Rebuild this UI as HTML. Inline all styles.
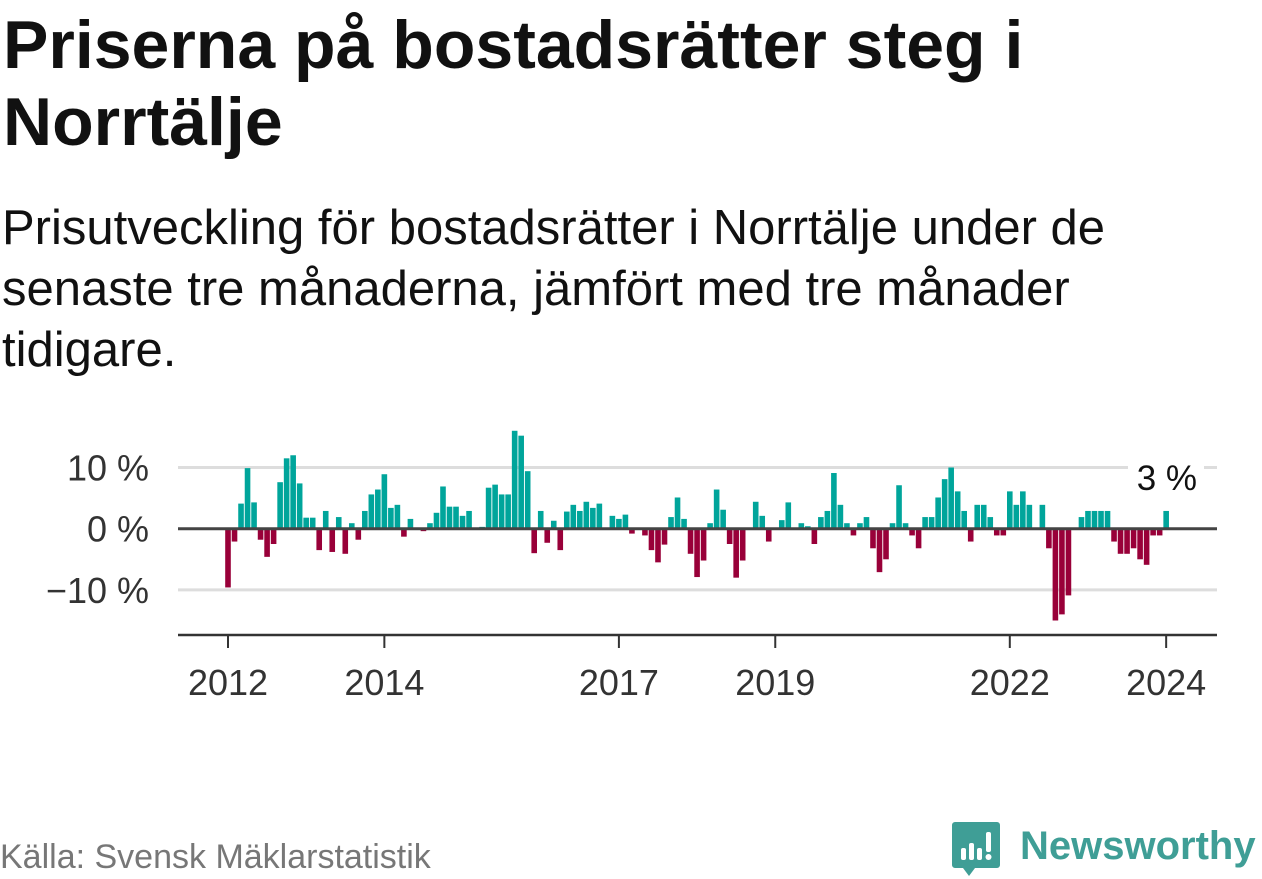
<!DOCTYPE html>
<html><head><meta charset="utf-8">
<style>
html,body{margin:0;padding:0;background:#fff;width:1262px;height:879px;overflow:hidden;font-family:"Liberation Sans","DejaVu Sans",sans-serif;color:#111;}
#title{position:absolute;left:3px;top:7px;font-size:68px;font-weight:bold;line-height:77px;margin:0;white-space:nowrap}
#subtitle{position:absolute;left:2px;top:198px;font-size:49px;line-height:61px;margin:0;width:1260px;white-space:nowrap}
#source{position:absolute;left:0px;top:838px;font-size:34px;color:#777;white-space:nowrap}
svg{position:absolute;left:0;top:0}
</style></head><body>
<h1 id="title">Priserna på bostadsrätter steg i<br>Norrtälje</h1>
<p id="subtitle">Prisutveckling för bostadsrätter i Norrtälje under de<br>senaste tre månaderna, jämfört med tre månader<br>tidigare.</p>
<div id="source">Källa: Svensk Mäklarstatistik</div>
<svg id="chart" width="1262" height="879"></svg>
<svg width="1262" height="879" style="pointer-events:none">
<path d="M955 822 h42 a3 3 0 0 1 3 3 v40 a3 3 0 0 1 -3 3 h-22 l-6 8 l-6 -8 h-8 a3 3 0 0 1 -3 -3 v-40 a3 3 0 0 1 3 -3z" fill="#3f9e96"/>
<rect x="961" y="848" width="5" height="12" rx="2" fill="#fff"/>
<rect x="969" y="843" width="5" height="17" rx="2" fill="#fff"/>
<rect x="977" y="848" width="5" height="12" rx="2" fill="#fff"/>
<rect x="986" y="832" width="5" height="20" rx="2" fill="#fff"/>
<circle cx="988.5" cy="857" r="3" fill="#fff"/>
<text x="1020" y="859" font-size="40" font-weight="bold" fill="#3f9e96" font-family="Liberation Sans, sans-serif">Newsworthy</text>
</svg>
<script>
const values = [-9.6,-2.1,4.1,9.9,4.3,-1.8,-4.6,-2.5,7.6,11.5,12.0,7.4,1.8,1.8,-3.5,2.9,-3.8,1.9,-4.1,0.9,-1.8,2.9,5.6,6.4,8.9,3.4,3.9,-1.3,1.6,0,-0.4,0.9,2.6,6.9,3.6,3.6,2.1,2.9,0.2,0.3,6.7,7.2,5.6,5.6,16.0,15.2,9.4,-4.0,2.9,-2.3,1.3,-3.5,2.8,3.9,2.9,4.4,3.4,4.1,0,2.1,1.6,2.3,-0.8,0,-1.1,-3.5,-5.5,-2.6,1.9,5.1,1.6,-4.1,-7.9,-5.2,0.9,6.4,3.1,-2.5,-8.0,-5.2,0,4.4,2.1,-2.1,0,1.4,4.3,0,0.9,0.4,-2.5,1.9,2.9,9.1,3.9,0.9,-1.1,0.9,1.9,-3.2,-7.1,-5.0,0.9,7.1,0.9,-1.1,-3.2,1.9,1.9,5.1,8.1,10.0,6.1,2.9,-2.1,3.9,3.9,1.9,-1.1,-1.1,6.1,3.9,6.1,3.9,0,3.9,-3.2,-15.0,-14.0,-10.9,0,1.9,2.9,2.9,2.9,2.9,-2.1,-4.1,-4.1,-3.2,-5.0,-5.9,-1.1,-1.1,2.9];
const yTicks = [10,0,-10];
const yTickLabels = ["10 %","0 %","\u221210 %"];
const xTickYears = [2012,2014,2017,2019,2022,2024];
const startYear = 2012;
const lastLabel = "3 %";

const NS="http://www.w3.org/2000/svg";
const svg=document.getElementById('chart');
const x=i=>228+6.515*i;
const xYear=yr=>x((yr-startYear)*12);
const y=v=>528.7-6.12*v;
function mk(tag,attrs){const e=document.createElementNS(NS,tag);for(const k in attrs)e.setAttribute(k,attrs[k]);svg.appendChild(e);return e;}
yTicks.forEach((t,k)=>{
  if(t!==0){const g=mk('line',{x1:178,x2:1217,y1:y(t),y2:y(t),stroke:'#ddd','stroke-width':3});
  
  }
  const tx=mk('text',{x:149,y:y(t)+13,'text-anchor':'end','font-size':36,fill:'#333'});
  tx.textContent=yTickLabels[k];
  
  
});
values.forEach((v,i)=>{
  if(v===0)return;
  const r=mk('rect',{x:x(i)-2.8,width:5.6,y:Math.min(y(v),y(0)),height:Math.abs(y(v)-y(0)),fill:v>0?'#00a59b':'#990039'});
  
  
});
const z=mk('line',{x1:178,x2:1217,y1:y(0),y2:y(0),stroke:'#444','stroke-width':3});


const ax=mk('line',{x1:178,x2:1217,y1:635,y2:635,stroke:'#333','stroke-width':2.5});


xTickYears.forEach(yr=>{
  const t=mk('line',{x1:xYear(yr),x2:xYear(yr),y1:635,y2:648,stroke:'#333','stroke-width':2});
  
  
  const l=mk('text',{x:xYear(yr),y:695,'text-anchor':'middle','font-size':36,fill:'#333'});
  l.textContent=yr;
  
  
});
const bg=mk('rect',{x:1128,y:455,width:76,height:40,fill:'#fff'});


const lab=mk('text',{x:1197,y:490,'text-anchor':'end','font-size':35,fill:'#111'});
lab.textContent=lastLabel;


</script>
</body></html>
